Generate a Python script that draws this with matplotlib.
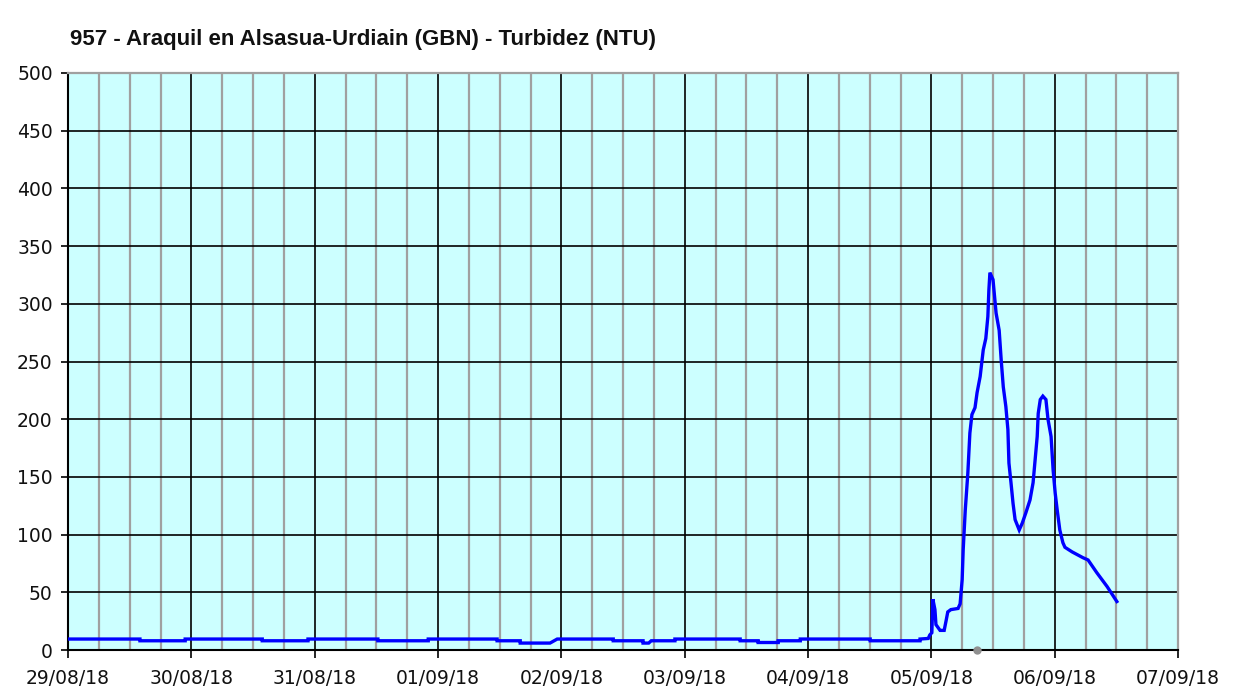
import matplotlib
matplotlib.use("Agg")
import matplotlib.pyplot as plt
import matplotlib.dates as mdates
import pandas as pd

title = "957 - Araquil en Alsasua-Urdiain (GBN) - Turbidez (NTU)"
start = pd.Timestamp("2018-08-29 00:00")
end = pd.Timestamp("2018-09-07 00:00")

# hours since 29/08/18 00:00 and turbidity (NTU)
hours = [0, 14.0, 14.0, 22.8, 22.8, 37.8, 37.8, 46.7, 46.7, 60.3, 60.3, 70.1, 70.1,
         83.5, 83.5, 88.0, 88.0, 93.8, 95.2, 106.1, 106.1, 111.9, 111.9, 113.0, 113.5,
         118.1, 118.1, 130.8, 130.8, 134.3, 134.3, 138.2, 138.2, 142.5, 142.5, 156.1,
         156.1, 165.8, 165.8, 167.4, 167.7, 168.1, 168.3, 168.7, 168.9, 169.7, 170.5,
         170.9, 171.2, 171.8, 173.2, 173.6, 174.0, 174.2, 174.6, 175.1, 175.5, 175.9,
         176.5, 176.9, 177.5, 178.1, 178.6, 179.0, 179.2, 179.4, 180.0, 180.6, 181.2,
         181.6, 182.0, 182.5, 182.9, 183.1, 183.5, 183.9, 184.3, 185.1, 185.7, 186.4,
         187.2, 187.8, 188.2, 188.6, 188.8, 189.2, 189.7, 190.3, 190.7, 191.3, 191.7,
         192.1, 192.5, 193.0, 193.6, 194.0, 195.4, 197.5, 198.5, 200.2, 202.2, 204.1]
ntu = [9.5, 9.5, 8, 8, 9.5, 9.5, 8, 8, 9.5, 9.5, 8, 8, 9.5,
       9.5, 8, 8, 6, 6, 9.5, 9.5, 8, 8, 6, 6, 8,
       8, 9.5, 9.5, 8, 8, 6.5, 6.5, 8, 8, 9.5, 9.5,
       8, 8, 9.5, 10, 13, 15, 44, 35, 22, 17, 17,
       26, 33, 35, 36, 40, 61, 87, 121, 153, 188, 204,
       210, 223, 237, 260, 270, 289, 312, 327, 321, 292, 277,
       251, 228, 211, 191, 162, 145, 127, 113, 104, 110, 119,
       130, 145, 165, 185, 205, 217, 220, 217, 200, 185, 156,
       136, 121, 104, 93, 89, 85, 80, 78, 67, 55, 42]

gap_marker_hour = [176.9]
gap_marker_value = [0]

yticks = list(range(0, 501, 50))

times = start + pd.to_timedelta(hours, unit="h")
gap_times = start + pd.to_timedelta(gap_marker_hour, unit="h")

fig = plt.figure(figsize=(12.38, 6.90), dpi=100)
fig.patch.set_facecolor("white")
ax = fig.add_axes([68/1238, 1-650/690, (1178-68)/1238, (650-73)/690])
ax.set_facecolor("#CCFFFF")

ax.set_xlim(start, end)
ax.set_ylim(0, 500)

ax.xaxis.set_major_locator(mdates.DayLocator())
ax.xaxis.set_major_formatter(mdates.DateFormatter("%d/%m/%y"))
ax.xaxis.set_minor_locator(mdates.HourLocator(byhour=[6, 12, 18]))
ax.set_yticks(yticks)

ax.grid(True, which="minor", axis="x", color="#A0A0A0", linewidth=1.6, zorder=1)
ax.grid(True, which="major", axis="x", color="black", linewidth=1.2, zorder=1)
ax.grid(True, which="major", axis="y", color="black", linewidth=1.2, zorder=1)
ax.set_axisbelow(True)

ax.plot(times, ntu, color="#0000FF", linewidth=2.4, zorder=3, solid_joinstyle="miter")
ax.plot(gap_times, gap_marker_value, "o", color="#909090", markersize=5, zorder=4, clip_on=False)

for s in ["left", "bottom"]:
    ax.spines[s].set_color("black")
    ax.spines[s].set_linewidth(1.5)
for s in ["top", "right"]:
    ax.spines[s].set_color("#A0A0A0")
    ax.spines[s].set_linewidth(1.6)

ax.tick_params(axis="x", which="major", length=6, width=1.2, color="black",
               labelsize=13.5, pad=8, labelcolor="#111111")
ax.tick_params(axis="x", which="minor", length=0)
ax.tick_params(axis="y", which="major", length=5, width=1.2, color="black",
               labelsize=13.5, pad=6, labelcolor="#111111")

fig.text(70/1238, 1-39/690, title, fontsize=16, fontweight="bold",
         family=["Liberation Sans", "DejaVu Sans"], va="center", ha="left", color="#111111")

fig.savefig("out.png", dpi=100, facecolor="white")
